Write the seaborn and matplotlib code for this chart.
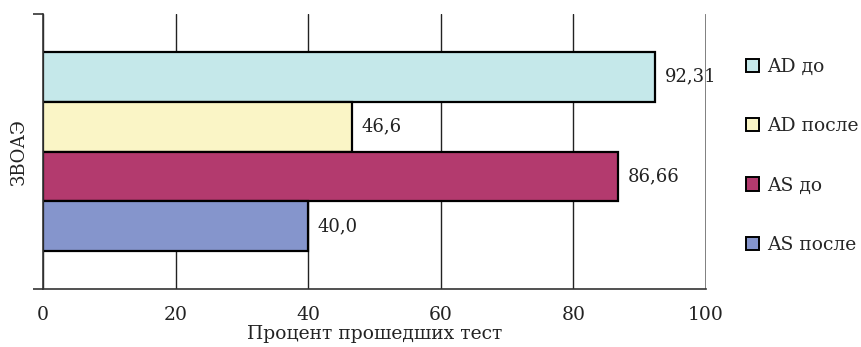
import matplotlib
matplotlib.use("Agg")
import matplotlib.pyplot as plt
import seaborn as sns
import pandas as pd
from matplotlib.patches import Patch

category = ["ЗВОАЭ"]
series = ["AD до", "AD после", "AS до", "AS после"]
values = [92.31, 46.6, 86.66, 40.0]
value_labels = ["92,31", "46,6", "86,66", "40,0"]
colors = ["#C5E8EA", "#FAF5C6", "#B33A6E", "#8595CC"]
xticks = [0, 20, 40, 60, 80, 100]
xlabel = "Процент прошедших тест"

df = pd.DataFrame({"cat": category * len(series), "series": series, "value": values})

sns.set_theme(style="white")
plt.rcParams["font.family"] = ["DejaVu Serif"]
plt.rcParams["font.size"] = 13

fig = plt.figure(figsize=(8.61, 3.47), dpi=100)
ax = fig.add_axes([43/861, 58/347, (706-43)/861, (289-14)/347])

sns.barplot(data=df, y="cat", x="value", hue="series", hue_order=series,
            palette=colors, orient="h", width=0.727, edgecolor="black",
            linewidth=1.6, ax=ax, legend=False, saturation=1)

for cont, lab in zip(ax.containers, value_labels):
    ax.bar_label(cont, labels=[lab], padding=7, fontsize=13, color="#222222")

ax.set_xlim(0, 100)
ax.set_ylim(0.5, -0.5)
ax.set_xticks(xticks)
ax.set_xticklabels([str(t) for t in xticks], fontsize=13.5, color="#222222")
ax.set_yticks([-0.5, 0.5])
ax.set_yticklabels(["", ""])
ax.set_ylabel("ЗВОАЭ", fontsize=13, color="#222222", labelpad=0)
ax.set_xlabel(xlabel, fontsize=13.5, color="#222222", labelpad=1)

ax.grid(axis="x", color="#222222", linewidth=1.0)
ax.set_axisbelow(True)
for s in ["top", "right"]:
    ax.spines[s].set_visible(False)
for s in ["left", "bottom"]:
    ax.spines[s].set_color("#333333")
    ax.spines[s].set_linewidth(1.2)
ax.axvline(100, color="#888888", linewidth=1.2, zorder=0.5)
ax.tick_params(axis="y", direction="out", length=7, width=1.2, color="#333333", left=True)
ax.tick_params(axis="x", direction="in", length=0, pad=12)

handles = [Patch(facecolor=c, edgecolor="black", linewidth=1.4) for c in colors]
fig.legend(handles, series, loc="upper left", bbox_to_anchor=(746/861, 1 - 58/347),
           frameon=False, fontsize=13.5, handlelength=0.7, handleheight=0.7,
           handletextpad=0.45, labelspacing=2.2, borderaxespad=0, borderpad=0)

fig.savefig("out.png", dpi=100)
